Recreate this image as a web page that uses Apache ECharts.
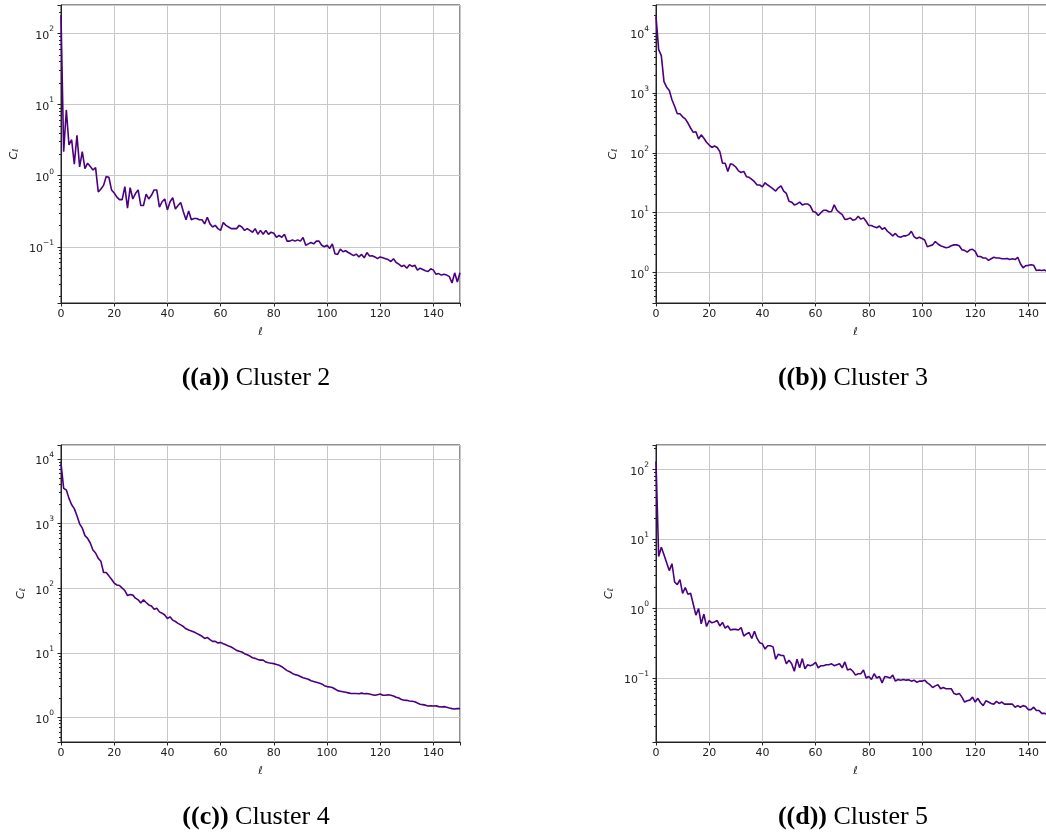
<!DOCTYPE html>
<html><head><meta charset="utf-8">
<script src="https://cdn.jsdelivr.net/npm/echarts@6/dist/echarts.min.js"></script>
<style>html,body{margin:0;padding:0;background:#fff}#c{width:1046px;height:833px}</style>
</head><body><div id="c"></div>
<script>
// multipole index ℓ = 0..150
const ell = Array.from({length: 151}, (_, i) => i);
const xTicks = [0, 20, 40, 60, 80, 100, 120, 140];
const captions = ['Cluster 2', 'Cluster 3', 'Cluster 4', 'Cluster 5'];
const letters = ['a', 'b', 'c', 'd'];

const cluster2 = [180, 2.17, 8.4, 2.7, 3.2, 1.45, 3.7, 1.33, 2.17, 1.26,
  1.5, 1.35, 1.2, 1.3, 0.59, 0.65, 0.73, 0.97, 0.95, 0.63,
  0.57, 0.5, 0.46, 0.46, 0.7, 0.35, 0.68, 0.47, 0.56, 0.63,
  0.38, 0.38, 0.55, 0.47, 0.53, 0.63, 0.63, 0.36, 0.43, 0.47,
  0.33, 0.43, 0.49, 0.34, 0.38, 0.42, 0.31, 0.24, 0.32, 0.24,
  0.25, 0.25, 0.24, 0.24, 0.21, 0.26, 0.21, 0.19, 0.2, 0.18,
  0.17, 0.22, 0.2, 0.19, 0.18, 0.18, 0.18, 0.2, 0.19, 0.17,
  0.18, 0.17, 0.16, 0.18, 0.15, 0.17, 0.15, 0.17, 0.15, 0.16,
  0.155, 0.136, 0.145, 0.136, 0.15, 0.12, 0.12, 0.125, 0.12, 0.125,
  0.12, 0.135, 0.105, 0.11, 0.115, 0.11, 0.12, 0.12, 0.105, 0.1,
  0.105, 0.095, 0.11, 0.08, 0.078, 0.093, 0.085, 0.088, 0.083, 0.079,
  0.075, 0.079, 0.072, 0.078, 0.07, 0.083, 0.074, 0.075, 0.072, 0.068,
  0.072, 0.07, 0.068, 0.066, 0.062, 0.068, 0.06, 0.057, 0.053, 0.055,
  0.05, 0.056, 0.053, 0.055, 0.047, 0.05, 0.048, 0.046, 0.045, 0.049,
  0.047, 0.041, 0.042, 0.04, 0.041, 0.04, 0.038, 0.031, 0.043, 0.032, 0.043];

const cluster3 = [19000, 5300, 4200, 1550, 1250, 1100, 770, 600, 450, 450,
  400, 370, 315, 260, 220, 225, 170, 200, 175, 150,
  135, 123, 130, 123, 105, 67, 67, 49, 66, 63,
  58, 50, 47, 49, 40, 39, 36, 33, 29, 29,
  27, 31.6, 29, 27, 25, 23, 26, 28, 23, 21,
  15.5, 15, 13.5, 14, 15, 13.5, 14, 14, 13, 10.5,
  10.2, 9, 10, 11, 11, 10.4, 10.5, 13.5, 11, 10,
  9.3, 7.7, 7.8, 8.2, 7.5, 7.7, 8.7, 7.8, 8.2, 7.2,
  6.1, 6.1, 5.8, 5.6, 6, 5.3, 5.6, 4.9, 4.5, 4.1,
  4.5, 4, 3.9, 4.1, 4.1, 4.3, 4.9, 4.0, 3.7, 3.9,
  3.7, 3.5, 2.7, 2.8, 2.9, 3.3, 3.0, 2.8, 2.7, 2.6,
  2.65, 2.8, 2.9, 2.9, 2.8, 2.4, 2.35, 2.2, 2.4, 2.45,
  2.25, 1.85, 1.85, 1.75, 1.75, 1.6, 1.7, 1.8, 1.75, 1.75,
  1.7, 1.7, 1.72, 1.65, 1.7, 1.65, 1.8, 1.4, 1.2, 1.3,
  1.32, 1.35, 1.32, 1.08, 1.1, 1.08, 1.1, 1.05, 1.1, 1.0, 1.05];

const cluster4 = [8500, 3500, 3300, 2450, 1950, 1700, 1320, 990, 850, 650,
  590, 500, 390, 350, 290, 260, 175, 175, 155, 137,
  120, 112, 110, 100, 92, 77, 80, 78, 70, 66,
  59, 66, 60, 55, 53, 47, 49, 43, 41, 38.5,
  34, 36, 32, 30.5, 28.5, 27, 25.5, 23.5, 22.5, 21.8,
  21, 20, 19, 18, 16.7, 17.3, 16, 15, 15, 14.2,
  14.5, 13.8, 13.3, 12.7, 12.3, 11.6, 10.9, 10.6, 10.3, 9.7,
  9.3, 8.9, 8.4, 8.2, 7.9, 7.7, 7.7, 7.2, 7.0, 6.9,
  6.8, 6.6, 6.4, 6.1, 5.7, 5.3, 5.1, 4.8, 4.6, 4.5,
  4.3, 4.1, 4.0, 3.9, 3.7, 3.6, 3.5, 3.4, 3.3, 3.1,
  3.0, 2.95, 2.9, 2.75, 2.6, 2.55, 2.5, 2.45, 2.4, 2.35,
  2.35, 2.35, 2.33, 2.38, 2.33, 2.35, 2.3, 2.25, 2.2, 2.25,
  2.3, 2.2, 2.2, 2.25, 2.2, 2.15, 2.05, 2.0, 1.9, 1.85,
  1.84, 1.8, 1.78, 1.75, 1.67, 1.6, 1.58, 1.55, 1.5, 1.52,
  1.5, 1.51, 1.47, 1.45, 1.47, 1.44, 1.4, 1.37, 1.35, 1.37, 1.37];

const cluster5 = [130, 5.6, 7.6, 5.9, 4.55, 3.5, 4.4, 2.4, 2.2, 2.6,
  1.65, 2.0, 1.6, 1.65, 1.16, 0.8, 1.0, 0.6, 0.83, 0.55,
  0.67, 0.62, 0.64, 0.67, 0.56, 0.63, 0.52, 0.56, 0.49, 0.5,
  0.5, 0.49, 0.53, 0.4, 0.43, 0.45, 0.37, 0.47, 0.37, 0.32,
  0.31, 0.26, 0.29, 0.29, 0.28, 0.186, 0.22, 0.21, 0.21, 0.16,
  0.18, 0.16, 0.125, 0.186, 0.14, 0.19, 0.135, 0.155, 0.15, 0.155,
  0.167, 0.14, 0.15, 0.15, 0.155, 0.155, 0.16, 0.15, 0.155, 0.16,
  0.14, 0.17, 0.13, 0.135, 0.125, 0.11, 0.115, 0.115, 0.13, 0.1,
  0.105, 0.095, 0.115, 0.1, 0.105, 0.085, 0.105, 0.103, 0.1, 0.11,
  0.09, 0.095, 0.093, 0.095, 0.093, 0.094, 0.09, 0.093, 0.087, 0.09,
  0.09, 0.093, 0.085, 0.08, 0.073, 0.077, 0.08, 0.07, 0.073, 0.07,
  0.07, 0.07, 0.06, 0.058, 0.06, 0.053, 0.045, 0.047, 0.048, 0.053,
  0.045, 0.051, 0.044, 0.04, 0.047, 0.045, 0.043, 0.042, 0.046, 0.043,
  0.045, 0.042, 0.042, 0.042, 0.042, 0.038, 0.04, 0.038, 0.04, 0.039,
  0.035, 0.035, 0.038, 0.034, 0.034, 0.031, 0.031, 0.030, 0.031, 0.029, 0.030];

const seriesData = [cluster2, cluster3, cluster4, cluster5];
const yMin = [0.0162, 0.31, 0.417, 0.012];
const yMax = [251, 29500, 16400, 224];

const grids = [
  {left: 61, top: 5, width: 399, height: 298},
  {left: 656, top: 5, width: 399, height: 298},
  {left: 61, top: 445, width: 399, height: 297},
  {left: 656, top: 445, width: 399, height: 297}
];
const yNameGap = [41, 37, 34, 41];
const capPos = [[251, 360], [848, 360], [251, 799], [848, 799]];

const FONT = 'DejaVu Sans';
const LINE = '#4b0082';

function powLabel(v) {
  const l = Math.log10(v);
  const e = Math.round(l);
  if (Math.abs(l - e) > 1e-6) return '';
  return '{b|10}{s|' + (e < 0 ? '\u2212' + (-e) : String(e)) + '}';
}

const option = {
  animation: false,
  backgroundColor: '#fff',
  grid: grids.map(g => Object.assign({show: true, borderColor: '#222', borderWidth: 1, backgroundColor: 'transparent', containLabel: false, outerBoundsMode: 'none'}, g)),
  title: captions.map((c, i) => ({
    text: '{b|((' + letters[i] + '))}{n| ' + c + '}',
    left: capPos[i][0], top: capPos[i][1], textAlign: 'center',
    textStyle: {
      rich: {
        b: {fontFamily: 'Liberation Serif', fontWeight: 'bold', fontSize: 26, color: '#000'},
        n: {fontFamily: 'Liberation Serif', fontWeight: 'normal', fontSize: 26, color: '#000'}
      }
    }
  })),
  xAxis: grids.map((g, i) => ({
    type: 'value', gridIndex: i, min: 0, max: 150, interval: 20,
    name: 'ℓ', nameLocation: 'middle', nameGap: 24,
    nameTextStyle: {fontFamily: FONT, fontStyle: 'italic', fontSize: 11, color: '#222'},
    axisLine: {show: true, onZero: false, lineStyle: {color: '#222', width: 1}},
    axisTick: {show: true, length: 3.5, lineStyle: {color: '#222'}},
    axisLabel: {
      fontFamily: FONT, fontSize: 11, color: '#222', margin: 6,
      formatter: v => (xTicks.indexOf(v) >= 0 ? String(v) : '')
    },
    splitLine: {show: true, lineStyle: {color: '#c8c8c8', width: 1}}
  })),
  yAxis: grids.map((g, i) => ({
    type: 'log', logBase: 10, gridIndex: i, min: yMin[i], max: yMax[i],
    name: '{c|C}{s|ℓ}', nameLocation: 'middle', nameRotate: 90, nameGap: yNameGap[i],
    nameTextStyle: {
      rich: {
        c: {fontFamily: FONT, fontStyle: 'italic', fontSize: 11, color: '#222', lineHeight: 14, verticalAlign: 'bottom'},
        s: {fontFamily: FONT, fontStyle: 'italic', fontSize: 8, color: '#222', lineHeight: 8, verticalAlign: 'bottom'}
      }
    },
    axisLine: {show: true, lineStyle: {color: '#222', width: 1}},
    axisTick: {show: true, length: 3.5, lineStyle: {color: '#222'}},
    minorTick: {show: true, splitNumber: 9, length: 2, lineStyle: {color: '#222'}},
    axisLabel: {
      margin: 7, formatter: powLabel,
      rich: {
        b: {fontFamily: FONT, fontSize: 11, color: '#222', lineHeight: 16, verticalAlign: 'bottom'},
        s: {fontFamily: FONT, fontSize: 7.5, color: '#222', lineHeight: 10, verticalAlign: 'top'}
      }
    },
    splitLine: {show: true, lineStyle: {color: '#c8c8c8', width: 1}}
  })),
  series: seriesData.map((arr, i) => ({
    type: 'line', xAxisIndex: i, yAxisIndex: i,
    showSymbol: false, symbol: 'none', clip: true,
    lineStyle: {color: LINE, width: 1.6},
    data: ell.map((x, k) => [x, arr[k]])
  }))
};

const chart = echarts.init(document.getElementById('c'), null, {renderer: 'canvas'});
chart.setOption(option);
</script>
</body></html>
